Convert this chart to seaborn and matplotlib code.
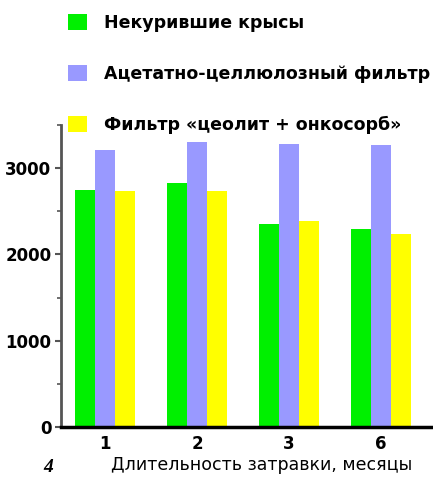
import matplotlib
matplotlib.use("Agg")
import matplotlib.pyplot as plt
import seaborn as sns
import pandas as pd

# Duration of exposure (months) and measured values per group
months = ["1", "2", "3", "6"]
series_names = [
    "Некурившие крысы",
    "Ацетатно-целлюлозный фильтр",
    "Фильтр «цеолит + онкосорб»",
]
nonsmoking = [2750, 2830, 2350, 2300]
acetate = [3210, 3300, 3275, 3270]
zeolite = [2735, 2740, 2390, 2240]
colors = ["#00f000", "#9999ff", "#ffff00"]

rows = []
for name, vals in zip(series_names, [nonsmoking, acetate, zeolite]):
    for m, v in zip(months, vals):
        rows.append({"month": m, "series": name, "value": v})
df = pd.DataFrame(rows)

sns.set_style("white")
plt.rcParams["font.family"] = ["DejaVu Sans"]
for key in ["text.color", "axes.labelcolor", "xtick.labelcolor", "ytick.labelcolor"]:
    plt.rcParams[key] = "black"

fig = plt.figure(figsize=(4.33, 4.78), dpi=100)
W, H = 433, 478
ax = fig.add_axes([61 / W, (H - 427) / H, (W - 61) / W, (427 - 125) / H])

sns.barplot(data=df, x="month", y="value", hue="series", order=months,
            hue_order=series_names, palette=colors, width=0.65,
            saturation=1, ax=ax, legend=True, edgecolor="none", linewidth=0)

ax.set_xlim(-0.478, 3.565)
ax.set_ylim(0, 3490)
ax.set_yticks([0, 1000, 2000, 3000])
ax.set_yticks([500, 1500, 2500, 3500], minor=True)
ax.tick_params(axis="y", which="major", left=True, length=4, width=1.5,
               color="#555555", labelsize=12, pad=3)
ax.tick_params(axis="y", which="minor", left=True, length=3, width=1.2,
               color="#555555")
ax.tick_params(axis="x", length=0, labelsize=12, pad=6)
for lab in ax.get_yticklabels() + ax.get_xticklabels():
    lab.set_fontweight("bold")
    lab.set_color("black")

for s in ["top", "right"]:
    ax.spines[s].set_visible(False)
ax.spines["left"].set_color("#555555")
ax.spines["left"].set_linewidth(2)
ax.spines["bottom"].set_color("black")
ax.spines["bottom"].set_linewidth(2.5)

ax.set_ylabel("")
ax.set_xlabel("Длительность затравки, месяцы", fontsize=12.5, labelpad=2,
              color="black")
ax.xaxis.set_label_coords(0.538, -0.097)

handles, labels = ax.get_legend_handles_labels()
leg = ax.legend(handles, labels, loc="upper left",
                bbox_to_anchor=(61 / W, 1 - 7 / H), bbox_transform=fig.transFigure,
                frameon=False, handlelength=1.09, handleheight=1.03,
                handletextpad=1.0, labelspacing=1.9, borderaxespad=0,
                prop={"weight": "bold", "size": 12.5})
for t in leg.get_texts():
    t.set_color("black")

fig.text(48 / W, 1 - 468 / H, "4", fontsize=14, fontweight="bold",
         fontstyle="italic", family="Liberation Serif", ha="center", va="center")

fig.savefig("out.png", dpi=100)
